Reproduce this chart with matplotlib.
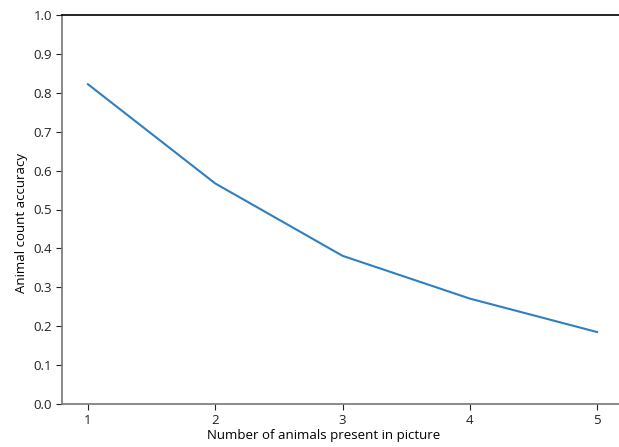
import matplotlib
matplotlib.use("Agg")
import matplotlib.pyplot as plt

# data
animals = [1, 2, 3, 4, 5]
accuracy = [0.822, 0.567, 0.381, 0.271, 0.185]

plt.rcParams['font.family'] = ['Open Sans', 'DejaVu Sans']
plt.rcParams['font.size'] = 9.5

fig = plt.figure(figsize=(6.19, 4.47), dpi=100)
# axes runs slightly past the right edge of the picture, as in the reference
ax = fig.add_axes([62.5 / 619, 43 / 447, 560 / 619, 389 / 447])

ax.plot(animals, accuracy, color='#2f7fc1', linewidth=1.5)

ax.set_ylim(0, 1.0)
ax.set_xlim(0.8, 5.2)
ax.set_xticks(animals)
ax.set_yticks([i / 10 for i in range(11)])
# labels in the reference sit left / low of centre, so anchor them at their start
ax.set_xlabel('Number of animals present in picture', labelpad=1,
              x=0.258, horizontalalignment='left')
ax.set_ylabel('Animal count accuracy', labelpad=4,
              y=0.285, horizontalalignment='left')

for side in ['left', 'bottom']:
    ax.spines[side].set_color('#777777')
    ax.spines[side].set_linewidth(1.2)
ax.spines['top'].set_color('black')
ax.spines['top'].set_linewidth(1.2)
ax.spines['right'].set_visible(False)
ax.tick_params(colors='#222222', length=4)

plt.savefig('out.png', dpi=100)
plt.close()
